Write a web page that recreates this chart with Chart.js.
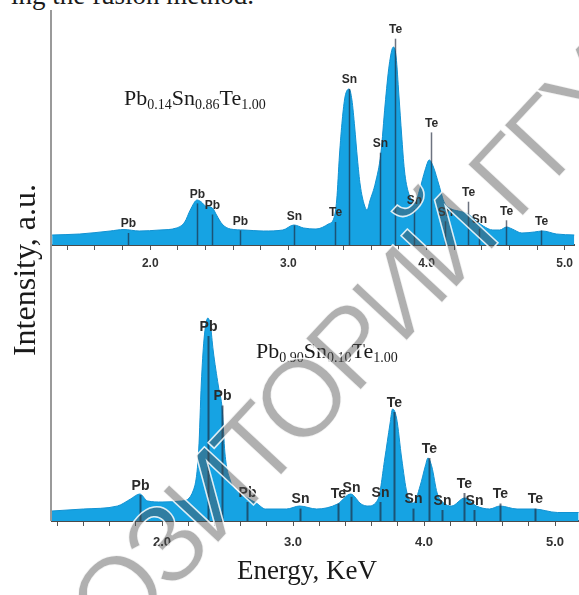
<!DOCTYPE html>
<html>
<head>
<meta charset="utf-8">
<script src="https://cdn.jsdelivr.net/npm/chart.js@4.4.1/dist/chart.umd.min.js"></script>
<style>
  html, body { margin: 0; padding: 0; background: #fff; }
  #figure { position: relative; width: 579px; height: 595px; overflow: hidden; background: #fff; }
  #figure canvas { position: absolute; left: 0; }
  #topChart { top: 0; }
  #bottomChart { top: 280px; }
  .serif { position: absolute; font-family: "Liberation Serif", "Times New Roman", serif; color: #1a1a1a; white-space: nowrap; }
  .serif .sub { font-size: 14px; line-height: 0; vertical-align: -4px; }
  #caption { left: 11px; top: -18px; font-size: 27px; line-height: 27px; }
  #formulaTop { left: 124px; top: 87px; font-size: 22px; line-height: 22px; }
  #formulaBottom { left: 256px; top: 340px; font-size: 22px; line-height: 22px; }
  #xTitle { left: 157px; width: 300px; text-align: center; top: 557px; font-size: 27px; line-height: 27px; }
  #yTitle { left: -126px; width: 300px; text-align: center; top: 254px; font-size: 32px; line-height: 32px; transform: rotate(-90deg); }
  #frameLine { position: absolute; left: 50px; top: 10px; width: 2px; height: 511px; background: #9a9a9a; }
  #watermark { position: absolute; left: -53px; top: 723px; transform-origin: 0 50%; transform: rotate(-47deg);
    font-family: "Liberation Sans", Arial, sans-serif; font-size: 110px; line-height: 110px; letter-spacing: -6px; white-space: nowrap;
    color: rgba(80, 80, 80, 0.45); -webkit-text-stroke: 1.5px rgba(255, 255, 255, 0.85); pointer-events: none; }
</style>
</head>
<body>
<div id="figure">
  <div class="serif" id="caption">ing the fusion method.</div>
  <canvas id="topChart" width="579" height="280"></canvas>
  <canvas id="bottomChart" width="579" height="315"></canvas>
  <div id="frameLine"></div>
  <div class="serif" id="formulaTop">Pb<span class="sub">0.14</span>Sn<span class="sub">0.86</span>Te<span class="sub">1.00</span></div>
  <div class="serif" id="formulaBottom">Pb<span class="sub">0.90</span>Sn<span class="sub">0.10</span>Te<span class="sub">1.00</span></div>
  <div class="serif" id="yTitle">Intensity, a.u.</div>
  <div class="serif" id="xTitle">Energy, KeV</div>
  <div id="watermark">РЕПОЗИТОРИЙ ГГУ</div>
</div>
<script>
// EDX spectra of Pb(1-x)Sn(x)Te samples

// Top spectrum: Pb0.14Sn0.86Te1.00
const topEnergy = [1.29, 1.49, 1.71, 1.81, 1.92, 2.07, 2.19, 2.25, 2.29, 2.34,
    2.37, 2.40, 2.45, 2.48, 2.52, 2.58, 2.68, 2.82, 2.96, 3.04,
    3.11, 3.20, 3.29, 3.33, 3.35, 3.37, 3.39, 3.41, 3.44, 3.46,
    3.48, 3.50, 3.52, 3.55, 3.57, 3.59, 3.63, 3.67, 3.70, 3.73,
    3.76, 3.78, 3.80, 3.82, 3.84, 3.87, 3.92, 3.95, 3.99, 4.02,
    4.05, 4.09, 4.13, 4.18, 4.23, 4.30, 4.35, 4.41, 4.48, 4.53,
    4.58, 4.62, 4.69, 4.78, 4.84, 4.94, 5.07];
const topCounts = [10, 11, 14, 15.5, 14, 15, 17, 23, 35, 45,
    43, 39, 37, 30, 21, 16, 15, 14, 15, 20,
    17, 16, 21, 27, 45, 90, 125, 148, 156, 145,
    118, 86, 60, 40, 35, 44, 62, 92, 140, 180,
    198, 188, 150, 110, 75, 52, 44, 55, 75, 85,
    78, 60, 42, 36, 34, 31, 25, 19, 15, 15,
    18, 16, 12, 13, 14, 11, 10];

// Bottom spectrum: Pb0.90Sn0.10Te1.00
const bottomEnergy = [1.16, 1.40, 1.66, 1.76, 1.83, 1.89, 2.00, 2.15, 2.24, 2.28,
    2.30, 2.32, 2.35, 2.37, 2.39, 2.43, 2.46, 2.48, 2.52, 2.57,
    2.65, 2.72, 2.79, 2.95, 3.05, 3.18, 3.34, 3.44, 3.52, 3.57,
    3.65, 3.70, 3.74, 3.76, 3.79, 3.83, 3.87, 3.92, 3.97, 4.01,
    4.03, 4.06, 4.10, 4.15, 4.21, 4.31, 4.40, 4.50, 4.58, 4.71,
    4.84, 5.02, 5.18];
const bottomCounts = [10, 12, 15, 22, 27, 20, 19, 20, 31, 71,
    138, 181, 203, 195, 171, 135, 111, 68, 41, 30,
    23, 18, 12, 12, 15, 12, 17, 27, 17, 15,
    22, 62, 97, 112, 103, 62, 28, 18, 35, 55,
    63, 54, 28, 18, 15, 23, 15, 12, 15, 12,
    12, 8.5, 8.5];

// Element line markers (energy, label, height of the marker line)
const topLineEnergy = [1.838, 2.342, 2.445, 2.653, 3.041, 3.338, 3.436, 3.665, 3.770, 3.908, 4.029, 4.132, 4.302, 4.381, 4.576, 4.826];
const topLineLabel = ['Pb', 'Pb', 'Pb', 'Pb', 'Sn', 'Te', 'Sn', 'Sn', 'Te', 'Sn', 'Te', 'Sn', 'Te', 'Sn', 'Te', 'Te'];
const topLineHeight = [12, 41.6, 30.5, 14.6, 19.6, 23, 156, 92.3, 206.3, 35.5, 112.6, 23.7, 43.3, 16.3, 24.7, 14.6];

const bottomLineEnergy = [1.834, 2.353, 2.456, 2.649, 3.050, 3.344, 3.443, 3.661, 3.771, 3.919, 4.035, 4.137, 4.305, 4.382, 4.577, 4.847];
const bottomLineLabel = ['Pb', 'Pb', 'Pb', 'Pb', 'Sn', 'Te', 'Sn', 'Sn', 'Te', 'Sn', 'Te', 'Sn', 'Te', 'Sn', 'Te', 'Te'];
const bottomLineHeight = [26, 185, 115.5, 19, 12.4, 17.5, 24.2, 19, 109, 12.4, 63, 11, 28, 11, 17.5, 12.4];

// Axis ticks
const tickValues = [1.2, 1.4, 1.6, 1.8, 2.0, 2.2, 2.4, 2.6, 2.8, 3.0, 3.2, 3.4, 3.6, 3.8, 4.0, 4.2, 4.4, 4.6, 4.8, 5.0];
const tickLabels = ['2.0', '3.0', '4.0', '5.0'];

const SPECTRUM_FILL = 'rgb(22, 163, 227)';
const SPECTRUM_EDGE = 'rgb(18, 146, 210)';

// Draws the vertical element lines and their labels
const lineMarkers = {
    id: 'lineMarkers',
    afterDatasetsDraw(chart, args, opts) {
        const { ctx, chartArea, scales } = chart;
        ctx.save();
        ctx.strokeStyle = 'rgba(30, 40, 60, 0.65)';
        ctx.lineWidth = opts.lineWidth;
        ctx.font = 'bold ' + opts.fontSize + 'px "Liberation Sans", Arial, sans-serif';
        ctx.fillStyle = '#2b2b2b';
        ctx.textAlign = 'center';
        ctx.textBaseline = 'middle';
        opts.energy.forEach((e, i) => {
            const x = Math.round(scales.x.getPixelForValue(e)) + 0.5;
            const yTop = scales.y.getPixelForValue(opts.height[i]);
            ctx.beginPath();
            ctx.moveTo(x, chartArea.bottom);
            ctx.lineTo(x, yTop);
            ctx.stroke();
            ctx.fillText(opts.label[i], x, yTop - 9);
        });
        ctx.restore();
    }
};

function makeSpectrum(canvasId, cfg) {
    const points = cfg.energy.map((e, i) => ({ x: e, y: cfg.counts[i] }));
    return new Chart(document.getElementById(canvasId), {
        type: 'line',
        data: {
            datasets: [{
                data: points,
                fill: 'origin',
                backgroundColor: SPECTRUM_FILL,
                borderColor: SPECTRUM_EDGE,
                borderWidth: 1,
                pointRadius: 0,
                tension: 0.4,
                cubicInterpolationMode: 'monotone'
            }]
        },
        options: {
            responsive: false,
            animation: false,
            events: [],
            layout: { padding: { left: 52, top: cfg.padTop, right: 0, bottom: 0 } },
            scales: {
                x: {
                    type: 'linear',
                    min: cfg.xMin,
                    max: cfg.xMax,
                    afterBuildTicks: (axis) => {
                        axis.ticks = tickValues
                            .filter(v => v >= cfg.xMin && v <= cfg.xMax)
                            .map(v => ({ value: v }));
                    },
                    afterFit: (scale) => { scale.height = cfg.axisHeight; },
                    border: { display: true, color: '#4a4a4a', width: 2 },
                    grid: { drawOnChartArea: false, drawTicks: true, tickLength: 5, color: '#555', lineWidth: 1 },
                    ticks: {
                        autoSkip: false,
                        maxRotation: 0,
                        padding: cfg.tickPad,
                        color: '#333',
                        font: { family: '"Liberation Sans", Arial, sans-serif', size: cfg.tickSize, weight: 'bold' },
                        callback: (value) => {
                            const s = Number(value).toFixed(1);
                            return tickLabels.includes(s) ? s : '';
                        }
                    }
                },
                y: {
                    display: false,
                    min: 0,
                    max: cfg.yMax
                }
            },
            plugins: {
                legend: { display: false },
                tooltip: { enabled: false },
                lineMarkers: {
                    energy: cfg.lineEnergy,
                    label: cfg.lineLabel,
                    height: cfg.lineHeight,
                    fontSize: cfg.labelSize,
                    lineWidth: cfg.markerWidth
                }
            }
        },
        plugins: [lineMarkers]
    });
}

makeSpectrum('topChart', {
    energy: topEnergy, counts: topCounts,
    lineEnergy: topLineEnergy, lineLabel: topLineLabel, lineHeight: topLineHeight,
    xMin: 1.289, xMax: 5.073, yMax: 235,
    padTop: 10, axisHeight: 35, tickPad: 6, tickSize: 12,
    labelSize: 12, markerWidth: 1.5
});

makeSpectrum('bottomChart', {
    energy: bottomEnergy, counts: bottomCounts,
    lineEnergy: bottomLineEnergy, lineLabel: bottomLineLabel, lineHeight: bottomLineHeight,
    xMin: 1.16, xMax: 5.183, yMax: 231,
    padTop: 10, axisHeight: 74, tickPad: 9, tickSize: 13,
    labelSize: 14, markerWidth: 2
});
</script>
</body>
</html>
